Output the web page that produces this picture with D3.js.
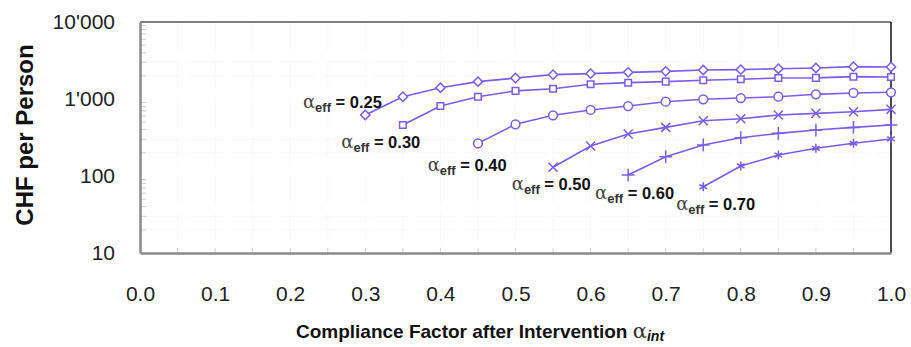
<!DOCTYPE html>
<html>
<head>
<meta charset="utf-8">
<script src="https://cdn.jsdelivr.net/npm/d3@7/dist/d3.min.js"></script>
<style>
  html, body { margin: 0; padding: 0; background: #fff; }
  text { font-family: "Liberation Sans", Arial, sans-serif; }
</style>
</head>
<body>
<div id="chart"></div>
<script>
// compliance factor after intervention (x) shared by all curves
const xValues = [0.30, 0.35, 0.40, 0.45, 0.50, 0.55, 0.60, 0.65, 0.70, 0.75, 0.80, 0.85, 0.90, 0.95, 1.00];

// CHF per person for each alpha_eff (null = not drawn)
const cost025 = [620, 1070, 1400, 1680, 1870, 2070, 2135, 2220, 2285, 2380, 2405, 2475, 2530, 2630, 2605];
const cost030 = [null, 459, 811, 1072, 1275, 1360, 1553, 1630, 1680, 1750, 1805, 1874, 1880, 1950, 1930];
const cost040 = [null, null, null, 265, 469, 615, 720, 811, 922, 991, 1030, 1072, 1150, 1197, 1222];
const cost050 = [null, null, null, null, null, 130, 245, 351, 428, 523, 554, 620, 651, 684, 734];
const cost060 = [null, null, null, null, null, null, null, 103, 178, 253, 314, 358, 395, 428, 459];
const cost070 = [null, null, null, null, null, null, null, null, null, 72.6, 135, 187, 229, 266, 303];

const alphaEff = ['0.25', '0.30', '0.40', '0.50', '0.60', '0.70'];
// label anchors in data units [x, y]
const labelAt = [[0.217, 764], [0.268, 231], [0.383, 117], [0.495, 66.5], [0.606, 49.8], [0.714, 36.1]];

const xTicks = [0, 0.1, 0.2, 0.3, 0.4, 0.5, 0.6, 0.7, 0.8, 0.9, 1.0];
const yTicks = [10, 100, 1000, 10000];
const yTickLabels = ['10', '100', "1'000", "10'000"];

const series = [cost025, cost030, cost040, cost050, cost060, cost070];
const symbols = [d3.symbolDiamond2, d3.symbolSquare2, d3.symbolCircle, d3.symbolX, d3.symbolPlus, d3.symbolAsterisk];

const width = 911, height = 347;
const mLeft = 140, mRight = 891, mTop = 22, mBottom = 253;
const purple = '#7a5cf4';

const svg = d3.select('#chart').append('svg')
  .attr('width', width)
  .attr('height', height);

svg.append('rect').attr('width', width).attr('height', height).attr('fill', '#fff');

const x = d3.scaleLinear().domain([0, 1]).range([mLeft, mRight]);
const y = d3.scaleLog().domain([10, 10000]).range([mBottom, mTop]);

// very faint grid
const gridY = [20, 30, 200, 300, 2000, 3000];
svg.append('g').selectAll('line')
  .data(gridY).enter().append('line')
  .attr('x1', mLeft).attr('x2', mRight)
  .attr('y1', d => y(d)).attr('y2', d => y(d))
  .attr('stroke', '#f8f8f8').attr('stroke-dasharray', '40,6');
svg.append('g').selectAll('line')
  .data(d3.range(1, 20).map(i => i * 0.05)).enter().append('line')
  .attr('x1', d => x(d)).attr('x2', d => x(d))
  .attr('y1', mTop).attr('y2', mBottom)
  .attr('stroke', '#f8f8f8').attr('stroke-dasharray', '30,8');

// minor ticks inside the left axis
const minor = [];
[10, 100, 1000].forEach(b => { for (let k = 2; k <= 9; k++) minor.push(b * k); });
svg.append('g').selectAll('line')
  .data(minor).enter().append('line')
  .attr('x1', mLeft).attr('x2', mLeft + 6)
  .attr('y1', d => y(d)).attr('y2', d => y(d))
  .attr('stroke', '#d0d0d0');

// inner ticks on the bottom axis
svg.append('g').selectAll('line')
  .data(d3.range(1, 20).map(i => i * 0.05)).enter().append('line')
  .attr('x1', d => x(d)).attr('x2', d => x(d))
  .attr('y1', mBottom).attr('y2', mBottom - 5)
  .attr('stroke', '#d0d0d0');

// frame
svg.append('line').attr('x1', mLeft).attr('x2', mRight).attr('y1', mTop).attr('y2', mTop)
  .attr('stroke', '#555').attr('stroke-width', 1.5);
svg.append('line').attr('x1', mRight).attr('x2', mRight).attr('y1', mTop).attr('y2', mBottom)
  .attr('stroke', '#111').attr('stroke-width', 1.5);

const xAxis = svg.append('g')
  .attr('transform', `translate(0,${mBottom})`)
  .call(d3.axisBottom(x).tickValues(xTicks).tickFormat(d3.format('.1f')).tickSize(0).tickPadding(33));
const yAxis = svg.append('g')
  .attr('transform', `translate(${mLeft},0)`)
  .call(d3.axisLeft(y).tickValues(yTicks).tickFormat((d, i) => yTickLabels[i]).tickSize(0).tickPadding(25));

[xAxis, yAxis].forEach(a => {
  a.select('.domain').attr('stroke', '#8a8a8a').attr('stroke-width', 2.5);
  a.selectAll('text').attr('font-size', 21).attr('fill', '#222')
    .attr('font-family', '"Liberation Sans", Arial, sans-serif');
});

// curves
const line = d3.line()
  .defined(d => d[1] != null)
  .x(d => x(d[0]))
  .y(d => y(d[1]));

series.forEach((vals, i) => {
  const pts = xValues.map((xv, j) => [xv, vals[j]]);
  svg.append('path')
    .datum(pts)
    .attr('d', line)
    .attr('fill', 'none')
    .attr('stroke', purple)
    .attr('stroke-width', 1.6);
  svg.append('g').selectAll('path')
    .data(pts.filter(d => d[1] != null)).enter().append('path')
    .attr('transform', d => `translate(${x(d[0])},${y(d[1])})`)
    .attr('d', d3.symbol().type(symbols[i]).size(i === 2 ? 60 : 55))
    .attr('fill', i < 3 ? '#fff' : 'none')
    .attr('stroke', purple)
    .attr('stroke-width', 1.5);
});

// curve labels
alphaEff.forEach((lab, i) => {
  const t = svg.append('text')
    .attr('x', x(labelAt[i][0]))
    .attr('y', y(labelAt[i][1]))
    .attr('fill', '#111');
  t.append('tspan').text('α')
    .attr('font-family', '"DejaVu Serif", "Liberation Serif", serif')
    .attr('font-size', 18).attr('fill', '#444');
  t.append('tspan').text('eff')
    .attr('font-size', 13).attr('font-weight', 'bold').attr('dy', 4).attr('fill', '#333');
  t.append('tspan').text(' = ' + lab)
    .attr('font-size', 16.5).attr('font-weight', 'bold').attr('dy', -4);
});

// axis titles
svg.append('text')
  .attr('transform', 'translate(33,135) rotate(-90)')
  .attr('text-anchor', 'middle')
  .attr('font-size', 24).attr('font-weight', 'bold').attr('fill', '#111')
  .text('CHF per Person');

const xt = svg.append('text')
  .attr('x', 480).attr('y', 338)
  .attr('text-anchor', 'middle')
  .attr('font-size', 19).attr('font-weight', 'bold').attr('fill', '#111');
xt.append('tspan').text('Compliance Factor after Intervention ');
xt.append('tspan').text('α')
  .attr('font-family', '"DejaVu Serif", "Liberation Serif", serif')
  .attr('font-weight', 'normal').attr('font-size', 21).attr('fill', '#333');
xt.append('tspan').text('int')
  .attr('font-style', 'italic').attr('font-size', 14).attr('dy', 3);
</script>
</body>
</html>
